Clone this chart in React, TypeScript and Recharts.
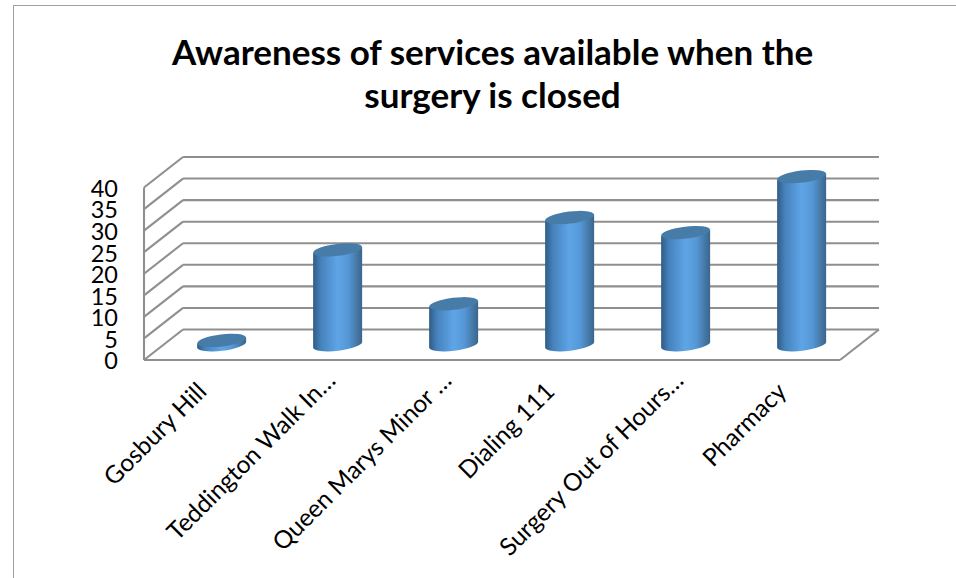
import { BarChart, Bar, XAxis, YAxis, CartesianGrid } from "recharts";

const categories = [
  "Gosbury Hill",
  "Teddington Walk In…",
  "Queen Marys Minor …",
  "Dialing 111",
  "Surgery Out of Hours…",
  "Pharmacy",
];
const awareness = [1, 22, 9.5, 29.5, 26, 39];
const yTicks = [0, 5, 10, 15, 20, 25, 30, 35, 40];
const titleLines = ["Awareness of services available when the", "surgery is closed"];

const data = categories.map((name, i) => ({ name, value: awareness[i] }));

// depth of the 3D box, back wall relative to the front edge
const DEPTH_X = 39;
const DEPTH_Y = -30.5;
const FONT = "Lato, sans-serif";
const WALL = "#8f8f8f";

function GridLine(props: any) {
  const { x1, x2, y1, y2, index } = props;
  const bx = x1 + DEPTH_X;
  const by = y1 + DEPTH_Y;
  return (
    <g key={index} fill="none" stroke={WALL} strokeWidth={2.1}>
      <line x1={x1} y1={y1} x2={bx} y2={by} />
      <line x1={bx} y1={by} x2={x2 + DEPTH_X} y2={y2 + DEPTH_Y} />
      {y1 > 359 && <line x1={x2} y1={y2} x2={x2 + DEPTH_X} y2={y2 + DEPTH_Y} />}
    </g>
  );
}

function Cylinder(props: any) {
  const { x, y, width, height } = props;
  const cx = x + width / 2 + DEPTH_X / 2;
  const top = y + DEPTH_Y / 2;
  const base = y + height + DEPTH_Y / 2;
  const hw = width / 2;
  const tilt = 3;
  const rx = 24.6;
  const ry = 6;
  const body =
    `M${cx - hw},${top + tilt} L${cx + hw},${top - tilt} L${cx + hw},${base - tilt} ` +
    `A${rx},${ry} -7 0 1 ${cx - hw},${base + tilt} Z`;
  return (
    <g>
      <path d={body} fill="url(#cylinderSide)" />
      <ellipse
        cx={cx}
        cy={top}
        rx={rx}
        ry={ry}
        fill="#477ca8"
        transform={`rotate(-7 ${cx} ${top})`}
      />
    </g>
  );
}

function CategoryTick(props: any) {
  const { x, y, payload } = props;
  // shortened labels sit further along the slope than the full ones
  const shortened = payload.value.endsWith("…");
  const dx = shortened ? 19 : 6;
  const dy = shortened ? 14 : 25;
  return (
    <text
      transform={`translate(${x + dx},${y + dy}) rotate(-45)`}
      textAnchor="end"
      fontFamily={FONT}
      fontSize={24.5}
      fill="#000"
    >
      {payload.value}
    </text>
  );
}

export default function App() {
  return (
    <div style={{ position: "absolute", left: 0, top: 0, width: 956, height: 578, background: "#fff", overflow: "hidden" }}>
      <div
        style={{
          position: "absolute",
          left: 13,
          top: 5,
          width: 960,
          height: 600,
          border: "1.5px solid #a0a0a0",
        }}
      />
      {titleLines.map((line, i) => (
        <div
          key={line}
          style={{
            position: "absolute",
            left: 0,
            width: 985,
            top: 31 + i * 43,
            textAlign: "center",
            fontFamily: FONT,
            fontWeight: 700,
            fontSize: 35,
            lineHeight: "40px",
            color: "#000",
            whiteSpace: "nowrap",
          }}
        >
          {line}
        </div>
      ))}
      <div style={{ position: "absolute", left: 0, top: 0 }}>
        <BarChart
          width={956}
          height={578}
          data={data}
          margin={{ top: 187.5, right: 116, bottom: 0, left: 0 }}
          barCategoryGap="29%"
        >
          <defs>
            <linearGradient id="cylinderSide" x1="0" y1="0" x2="1" y2="0">
              <stop offset="0" stopColor="#2f5c85" />
              <stop offset="0.16" stopColor="#4682bd" />
              <stop offset="0.5" stopColor="#5fa5e6" />
              <stop offset="0.72" stopColor="#5597d6" />
              <stop offset="0.9" stopColor="#4477a3" />
              <stop offset="1" stopColor="#3a668d" />
            </linearGradient>
          </defs>
          <CartesianGrid vertical={false} horizontal={GridLine as any} />
          <XAxis
            dataKey="name"
            interval={0}
            axisLine={{ stroke: WALL, strokeWidth: 2.1 }}
            tickLine={false}
            tick={CategoryTick as any}
            height={218}
          />
          <YAxis
            domain={[0, 40]}
            ticks={yTicks}
            width={144}
            interval={0}
            axisLine={{ stroke: WALL, strokeWidth: 2.1 }}
            tickLine={false}
            tickSize={0}
            tick={{ fontFamily: FONT, fontSize: 23.5, fill: "#000", dy: 1 }}
            tickMargin={26}
          />
          <Bar dataKey="value" isAnimationActive={false} shape={Cylinder as any} />
        </BarChart>
      </div>
    </div>
  );
}
